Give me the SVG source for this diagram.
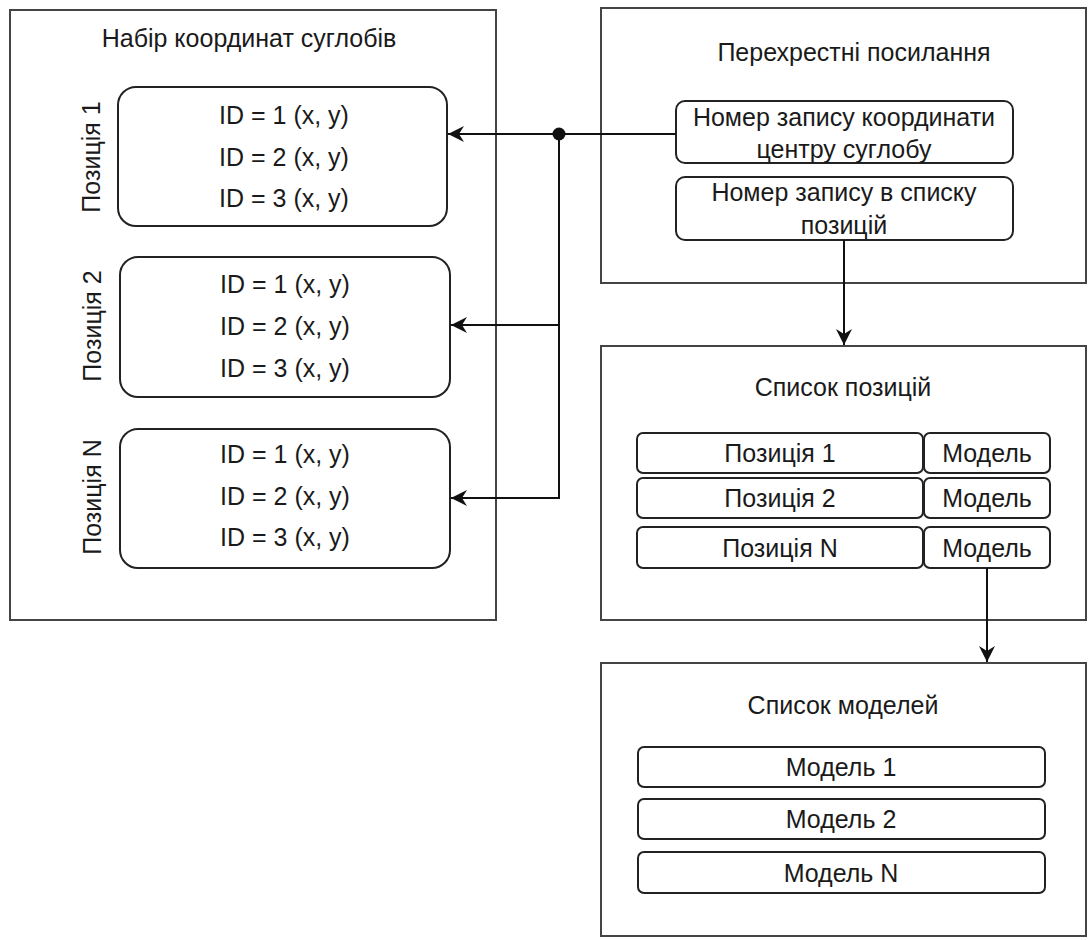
<svg xmlns="http://www.w3.org/2000/svg" width="1088" height="940" viewBox="0 0 1088 940">
  <style>
    .frame { fill: #ffffff; stroke: #444444; stroke-width: 2; }
    .box { fill: #ffffff; stroke: #222222; stroke-width: 2; }
    .lbl { font-family: "Liberation Sans", Arial, sans-serif; font-size: 25px; fill: #1a1a1a; text-anchor: middle; }
    .wire { fill: none; stroke: #111111; stroke-width: 2; }
  </style>
  <defs>
    <marker id="arrow" viewBox="0 0 17 17" refX="16" refY="8.5" markerWidth="17" markerHeight="17" markerUnits="userSpaceOnUse" orient="auto">
      <path d="M16,8.5 L0,0.5 L5,8.5 L0,16.5 Z" fill="#111111"/>
    </marker>
  </defs>
  <rect width="1088" height="940" fill="#ffffff"/>

  <!-- joint coordinate set -->
  <g id="joint-set">
    <rect class="frame" x="10" y="10" width="486" height="610"/>
    <text class="lbl" x="249" y="47">Набір координат суглобів</text>
  </g>

  <g id="position-1">
    <rect class="box" x="118" y="87" width="329" height="139" rx="18"/>
    <text class="lbl" x="284" y="124">ID = 1 (x, y)</text>
    <text class="lbl" x="284" y="166">ID = 2 (x, y)</text>
    <text class="lbl" x="284" y="207">ID = 3 (x, y)</text>
    <text class="lbl" transform="translate(100,157) rotate(-90)">Позиція 1</text>
  </g>

  <g id="position-2">
    <rect class="box" x="120" y="257" width="330" height="140" rx="18"/>
    <text class="lbl" x="285" y="293">ID = 1 (x, y)</text>
    <text class="lbl" x="285" y="335">ID = 2 (x, y)</text>
    <text class="lbl" x="285" y="377">ID = 3 (x, y)</text>
    <text class="lbl" transform="translate(101,326) rotate(-90)">Позиція 2</text>
  </g>

  <g id="position-n">
    <rect class="box" x="120" y="429" width="330" height="139" rx="18"/>
    <text class="lbl" x="285" y="463">ID = 1 (x, y)</text>
    <text class="lbl" x="285" y="505">ID = 2 (x, y)</text>
    <text class="lbl" x="285" y="546">ID = 3 (x, y)</text>
    <text class="lbl" transform="translate(101,497) rotate(-90)">Позиція N</text>
  </g>

  <!-- cross references -->
  <g id="cross-refs">
    <rect class="frame" x="601" y="8" width="485" height="275"/>
    <text class="lbl" x="854" y="61">Перехрестні посилання</text>
  </g>

  <g id="ref-joint-centre">
    <rect class="box" x="676" y="101" width="337" height="62" rx="9"/>
    <text class="lbl" x="844" y="126">Номер запису координати</text>
    <text class="lbl" x="844" y="158">центру суглобу</text>
  </g>

  <g id="ref-position">
    <rect class="box" x="676" y="177" width="337" height="63" rx="9"/>
    <text class="lbl" x="844" y="201">Номер запису в списку</text>
    <text class="lbl" x="844" y="234">позицій</text>
  </g>

  <!-- position list -->
  <g id="position-list">
    <rect class="frame" x="601" y="346" width="485" height="274"/>
    <text class="lbl" x="843" y="396">Список позицій</text>
  </g>

  <g id="pos-row-1">
    <rect class="box" x="637" y="433" width="286" height="40" rx="6"/>
    <text class="lbl" x="780" y="462">Позиція 1</text>
    <rect class="box" x="924" y="433" width="126" height="40" rx="6"/>
    <text class="lbl" x="987" y="462">Модель</text>
  </g>

  <g id="pos-row-2">
    <rect class="box" x="637" y="478" width="286" height="40" rx="6"/>
    <text class="lbl" x="780" y="507">Позиція 2</text>
    <rect class="box" x="924" y="478" width="126" height="40" rx="6"/>
    <text class="lbl" x="987" y="507">Модель</text>
  </g>

  <g id="pos-row-n">
    <rect class="box" x="637" y="527" width="286" height="41" rx="6"/>
    <text class="lbl" x="780" y="557">Позиція N</text>
    <rect class="box" x="924" y="527" width="126" height="41" rx="6"/>
    <text class="lbl" x="987" y="557">Модель</text>
  </g>

  <!-- model list -->
  <g id="model-list">
    <rect class="frame" x="601" y="663" width="485" height="273"/>
    <text class="lbl" x="843" y="714">Список моделей</text>
  </g>

  <g id="model-1">
    <rect class="box" x="638" y="747" width="407" height="40" rx="6"/>
    <text class="lbl" x="841" y="776">Модель 1</text>
  </g>
  <g id="model-2">
    <rect class="box" x="638" y="799" width="407" height="40" rx="6"/>
    <text class="lbl" x="841" y="828">Модель 2</text>
  </g>
  <g id="model-n">
    <rect class="box" x="638" y="852" width="407" height="41" rx="6"/>
    <text class="lbl" x="841" y="882">Модель N</text>
  </g>

  <!-- connectors -->
  <g id="connectors">
    <path class="wire" d="M676,134 H448" marker-end="url(#arrow)"/>
    <path class="wire" d="M559,134 V325 H451" marker-end="url(#arrow)"/>
    <path class="wire" d="M559,325 V498 H451" marker-end="url(#arrow)"/>
    <circle cx="559" cy="134" r="6.5" fill="#111111"/>
    <path class="wire" d="M844,240 V345" marker-end="url(#arrow)"/>
    <path class="wire" d="M987,568 V662" marker-end="url(#arrow)"/>
  </g>
</svg>
